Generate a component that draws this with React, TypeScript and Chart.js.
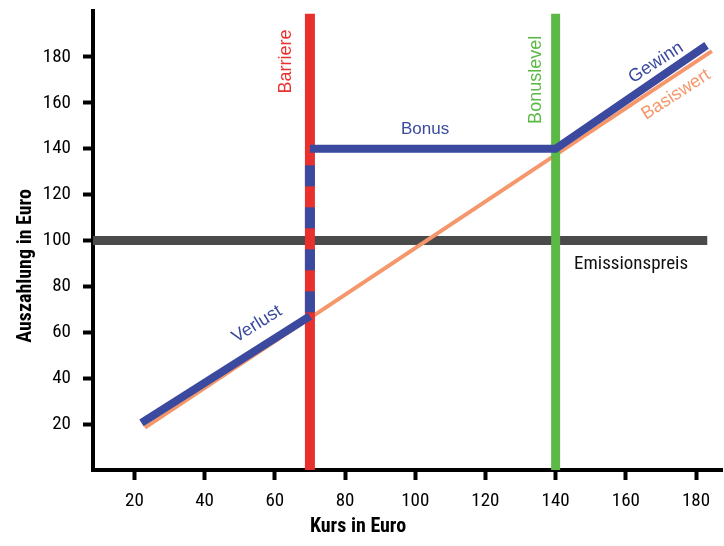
import React, { useEffect, useRef } from "react";
import { Chart, registerables } from "chart.js";

Chart.register(...registerables);

// ---- data ----
const xTicks = [20, 40, 60, 80, 100, 120, 140, 160, 180];
const yTicks = [20, 40, 60, 80, 100, 120, 140, 160, 180];
const xRange = [8.2, 187.4];
const yRange = [0, 200];

const basiswert = [
  { x: 23, y: 18.5 },
  { x: 184.5, y: 182.5 },
];
const verlust = [
  { x: 22, y: 20.5 },
  { x: 70, y: 67 },
];
const bonusGewinn = [
  { x: 70, y: 140 },
  { x: 140, y: 140 },
  { x: 183, y: 185 },
];
const barriereDash = [
  { x: 70, y: 68.7 },
  { x: 70, y: 140 },
];
const barriere = [
  { x: 70, y: 0 },
  { x: 70, y: 198.8 },
];
const bonuslevel = [
  { x: 140, y: 0 },
  { x: 140, y: 198.8 },
];
const emissionspreis = [
  { x: 8.2, y: 100 },
  { x: 183.2, y: 100 },
];

const labelTexts = ["Barriere", "Bonuslevel", "Gewinn", "Basiswert", "Verlust", "Bonus", "Emissionspreis"];
const labelAnchorsX = [63.2, 134.3, 168.6, 174.3, 54.9, 102.8, 161.5];
const labelAnchorsY = [178, 170, 177.5, 163.6, 63.5, 148.6, 89.6];

const xTitle = "Kurs in Euro";
const yTitle = "Auszahlung in Euro";

// ---- styles ----
const BLUE = "#3b4a9e";
const RED = "#e8312f";
const GREEN = "#5cb946";
const ORANGE = "#f5976a";
const GRAY = "#4a4a4a";
const CONDENSED = '"Liberation Sans Narrow", "Arial Narrow", "Roboto Condensed", "DejaVu Sans Condensed", sans-serif';
const REGULAR = '"Liberation Sans", Arial, Helvetica, sans-serif';

const labelStyles = [
  { color: RED, rot: -90, font: `18px ${REGULAR}` },
  { color: GREEN, rot: -90, font: `18px ${REGULAR}` },
  { color: BLUE, rot: -33, font: `18px ${REGULAR}` },
  { color: ORANGE, rot: -33, font: `18px ${REGULAR}` },
  { color: BLUE, rot: -32, font: `18px ${REGULAR}` },
  { color: BLUE, rot: 0, font: `17px ${REGULAR}` },
  { color: "#111", rot: 0, font: `19px ${CONDENSED}` },
];

const textPlugin = {
  id: "textPlugin",
  afterDraw(chart: any) {
    const { ctx, scales } = chart;
    const xs = scales.x;
    const ys = scales.y;
    ctx.save();
    ctx.textAlign = "center";
    ctx.textBaseline = "middle";
    labelTexts.forEach((t, i) => {
      const st = labelStyles[i];
      const px = xs.getPixelForValue(labelAnchorsX[i]);
      const py = ys.getPixelForValue(labelAnchorsY[i]);
      ctx.save();
      ctx.translate(px, py);
      ctx.rotate((st.rot * Math.PI) / 180);
      ctx.font = st.font;
      ctx.fillStyle = st.color;
      ctx.fillText(t, 0, 0);
      ctx.restore();
    });
    // axis titles
    ctx.fillStyle = "#000";
    ctx.font = `bold 20px ${CONDENSED}`;
    ctx.fillText(xTitle, 358, 527);
    ctx.save();
    ctx.translate(26, 266);
    ctx.rotate(-Math.PI / 2);
    ctx.fillText(yTitle, 0, 0);
    ctx.restore();
    ctx.restore();
  },
};

function line(data: any[], color: string, width: number, order: number, extra: any = {}) {
  return {
    data,
    borderColor: color,
    backgroundColor: color,
    borderWidth: width,
    pointRadius: 0,
    fill: false,
    tension: 0,
    borderCapStyle: "butt",
    borderJoinStyle: "miter",
    order,
    ...extra,
  };
}

export default function App() {
  const ref = useRef<HTMLCanvasElement | null>(null);
  useEffect(() => {
    if (!ref.current) return;
    const chart = new Chart(ref.current, {
      type: "line",
      data: {
        datasets: [
          line(bonusGewinn, BLUE, 8, 0),
          line(verlust, BLUE, 8, 0),
          line(barriereDash, BLUE, 10, 1, { borderDash: [21, 21] }),
          line(bonuslevel, GREEN, 9, 2),
          line(barriere, RED, 10, 3),
          line(basiswert, ORANGE, 4, 4),
          line(emissionspreis, GRAY, 9, 5),
        ] as any,
      },
      options: {
        responsive: false,
        animation: false,
        devicePixelRatio: 1,
        layout: { padding: { top: 11, right: 2, left: 0, bottom: 0 } },
        plugins: { legend: { display: false }, tooltip: { enabled: false }, title: { display: false } },
        scales: {
          x: {
            type: "linear",
            min: xRange[0],
            max: xRange[1],
            afterBuildTicks: (s: any) => {
              s.ticks = xTicks.map((v) => ({ value: v }));
            },
            afterFit: (s: any) => {
              s.height = 76;
              s.paddingLeft = 0;
              s.paddingRight = 0;
              s.paddingTop = 0;
              s.paddingBottom = 0;
            },
            grid: { display: true, drawOnChartArea: false, drawTicks: true, tickLength: 10, tickWidth: 4, tickColor: "#000" },
            border: { display: true, color: "#000", width: 4 },
            ticks: { color: "#000", font: { family: CONDENSED, size: 19 }, padding: 10, autoSkip: false, maxRotation: 0, includeBounds: false },
          },
          y: {
            type: "linear",
            min: yRange[0],
            max: yRange[1],
            afterBuildTicks: (s: any) => {
              s.ticks = yTicks.map((v) => ({ value: v }));
            },
            afterFit: (s: any) => {
              s.width = 93;
              s.paddingLeft = 0;
              s.paddingRight = 0;
              s.paddingTop = 0;
              s.paddingBottom = 0;
            },
            grid: { display: true, drawOnChartArea: false, drawTicks: true, tickLength: 10, tickWidth: 4, tickColor: "#000" },
            border: { display: true, color: "#000", width: 4 },
            ticks: { color: "#000", font: { family: CONDENSED, size: 19 }, padding: 12, autoSkip: false, includeBounds: false },
          },
        },
      } as any,
      plugins: [textPlugin],
    });
    return () => chart.destroy();
  }, []);
  return (
    <div style={{ position: "absolute", left: 0, top: 0, width: 724, height: 546, background: "#fff" }}>
      <canvas ref={ref} width={724} height={546} style={{ display: "block", width: 724, height: 546 }} />
    </div>
  );
}
